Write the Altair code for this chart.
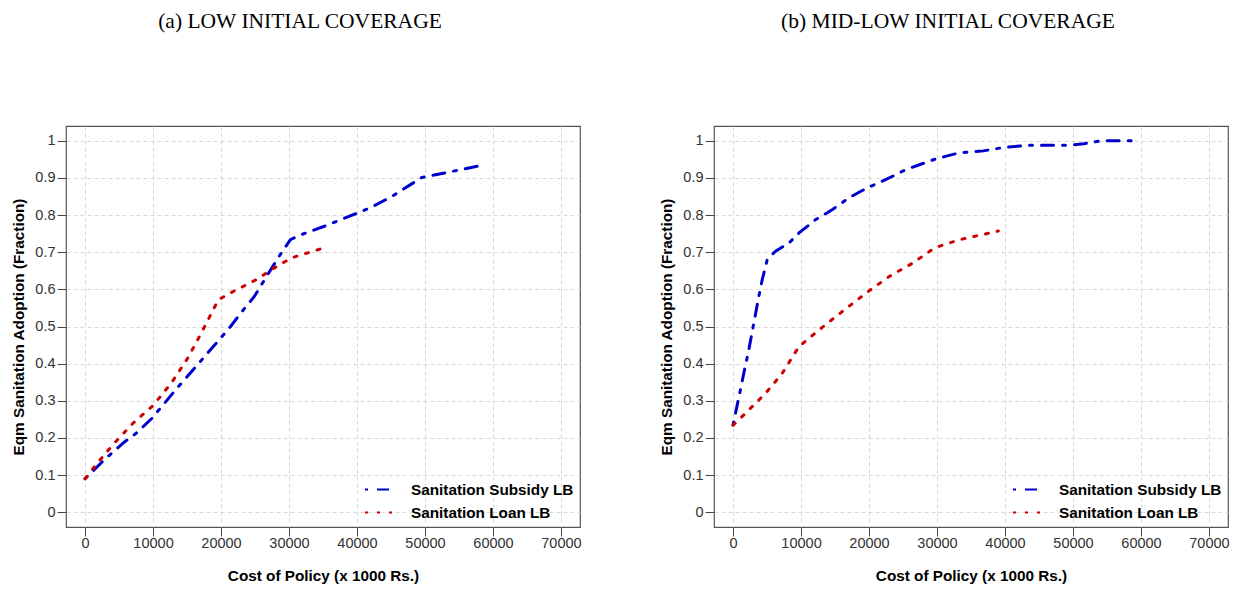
import altair as alt
import pandas as pd

SUB = "Sanitation Subsidy LB"
LOAN = "Sanitation Loan LB"

# Panel (a): Low initial coverage
a_sub_x = [0, 1500, 3000, 5800, 7500, 9800, 13300, 16300, 19300, 21400, 22900, 24900,
           26400, 28400, 30200, 31900, 35200, 38900, 42000, 45200, 49500, 53000, 58300]
a_sub_y = [0.09, 0.117, 0.144, 0.189, 0.212, 0.252, 0.329, 0.392, 0.455, 0.50, 0.536, 0.581,
           0.626, 0.685, 0.734, 0.748, 0.770, 0.797, 0.820, 0.851, 0.901, 0.914, 0.934]
a_loan_x = [0, 1760, 4270, 7040, 10050, 12810, 15080, 17090, 19600, 21860, 25380, 27390, 30400, 34670]
a_loan_y = [0.09, 0.131, 0.185, 0.239, 0.288, 0.351, 0.414, 0.482, 0.572, 0.595, 0.628, 0.653, 0.685, 0.709]

# Panel (b): Mid-low initial coverage
b_sub_x = [0, 1080, 1580, 2320, 3050, 3790, 4290, 5030, 6260, 8230, 9700, 12170, 14630,
           17090, 19800, 22510, 25470, 29900, 33350, 36800, 39750, 43200, 49110, 51580, 54040, 59460]
b_sub_y = [0.235, 0.329, 0.374, 0.437, 0.509, 0.581, 0.626, 0.680, 0.703, 0.725, 0.752, 0.788, 0.815,
           0.847, 0.874, 0.896, 0.923, 0.952, 0.968, 0.973, 0.982, 0.988, 0.988, 0.992, 1.0, 1.0]
b_loan_x = [0, 1820, 4780, 7240, 9700, 12660, 16110, 19560, 23000, 26450, 29660, 33350, 36800, 39020]
b_loan_y = [0.234, 0.266, 0.320, 0.374, 0.446, 0.491, 0.541, 0.590, 0.635, 0.671, 0.712, 0.734, 0.748, 0.757]

x_ticks = [0, 10000, 20000, 30000, 40000, 50000, 60000, 70000]
y_ticks = [0, 0.1, 0.2, 0.3, 0.4, 0.5, 0.6, 0.7, 0.8, 0.9, 1.0]
titles = ["(a) LOW INITIAL COVERAGE", "(b) MID-LOW INITIAL COVERAGE"]


def frame(sx, sy, lx, ly):
    return pd.DataFrame(
        {"cost": sx + lx, "adopt": sy + ly,
         "series": [SUB] * len(sx) + [LOAN] * len(lx)}
    )


def panel(df, title):
    legend = alt.Legend(
        title=None, orient="none", legendX=298, legendY=349, padding=0,
        symbolType="stroke", symbolSize=729, symbolStrokeWidth=2,
        labelFont="Liberation Sans", labelFontSize=15.3, labelFontWeight="bold",
        labelColor="black", labelOffset=18, labelLimit=400, rowPadding=-20, symbolOpacity=1,
    )
    return alt.Chart(df).mark_line(strokeWidth=3, strokeCap="round", clip=True).encode(
        x=alt.X("cost:Q",
                scale=alt.Scale(domain=[-2800, 72800], nice=False, zero=False),
                axis=alt.Axis(values=x_ticks, format="d", title="Cost of Policy (x 1000 Rs.)",
                              titlePadding=19, labelPadding=0)),
        y=alt.Y("adopt:Q",
                scale=alt.Scale(domain=[-0.04, 1.04], nice=False, zero=False),
                axis=alt.Axis(values=y_ticks, format=".1~f",
                              title="Eqm Sanitation Adoption (Fraction)", titlePadding=8)),
        color=alt.Color("series:N", sort=[SUB, LOAN],
                        scale=alt.Scale(domain=[SUB, LOAN], range=["#0000CD", "#CD0000"]),
                        legend=legend),
        strokeDash=alt.StrokeDash("series:N", sort=[SUB, LOAN],
                                  scale=alt.Scale(domain=[SUB, LOAN], range=[[3, 9, 12, 9], [3, 9]]),
                                  legend=legend),
    ).properties(
        width=514, height=401,
        title=alt.TitleParams(text=title, font="Liberation Serif", fontSize=21.5,
                              fontWeight="normal", color="black", anchor="middle",
                              offset=94, dx=-23),
    )


left = panel(frame(a_sub_x, a_sub_y, a_loan_x, a_loan_y), titles[0])
right = panel(frame(b_sub_x, b_sub_y, b_loan_x, b_loan_y), titles[1])

chart = alt.hconcat(left, right, spacing=134, bounds="flush").resolve_scale(
    color="independent", strokeDash="independent"
).resolve_legend(
    color="independent", strokeDash="independent"
).properties(
    padding={"left": 11, "top": 9, "right": 8, "bottom": 4},
    background="white",
).configure_view(
    stroke="#555555", strokeWidth=1.2
).configure_axis(
    grid=True, gridColor="#D9D9D9", gridDash=[4, 3], gridWidth=1,
    domain=False, ticks=True, tickColor="#444444", tickSize=9,
    labelFont="Liberation Sans", labelFontSize=14.5, labelColor="#333333", labelPadding=2,
    titleFont="Liberation Sans", titleFontSize=15.3, titleFontWeight="bold", titleColor="black",
)

chart.save("out.html", embed_options={"renderer": "svg", "actions": False})
